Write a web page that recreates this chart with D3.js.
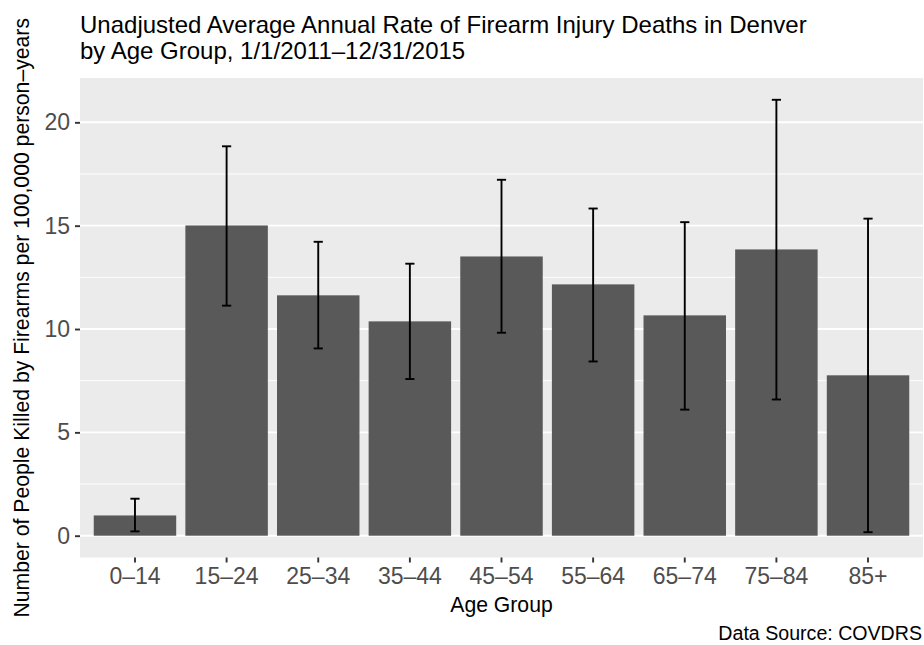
<!DOCTYPE html>
<html><head><meta charset="utf-8">
<script src="https://cdn.jsdelivr.net/npm/d3@7"></script>
<style>body{margin:0;background:#fff} svg{display:block}</style>
</head><body>
<svg id="chart" width="924" height="645"></svg>
<script>
const ageGroups = ["0–14","15–24","25–34","35–44","45–54","55–64","65–74","75–84","85+"];
const rates   = [0.98, 15.01, 11.63, 10.37, 13.51, 12.16, 10.66, 13.85, 7.76];
const lowerCI = [0.21, 11.13, 9.06, 7.58, 9.82, 8.43, 6.10, 6.59, 0.17];
const upperCI = [1.79, 18.84, 14.22, 13.16, 17.22, 15.83, 15.17, 21.09, 15.34];
const yTicks = [0, 5, 10, 15, 20];
const yMinorTicks = [2.5, 7.5, 12.5, 17.5];
const titleLines = ["Unadjusted Average Annual Rate of Firearm Injury Deaths in Denver",
                    "by Age Group, 1/1/2011–12/31/2015"];
const xTitle = "Age Group";
const yTitle = "Number of People Killed by Firearms per 100,000 person–years";
const caption = "Data Source: COVDRS";

const svg = d3.select("#chart");
const font = "'Liberation Sans', Arial, Helvetica, sans-serif";
const panel = {left: 80, right: 923, top: 78, bottom: 557.5};

const data = ageGroups.map((g, i) => ({g, v: rates[i], lo: lowerCI[i], hi: upperCI[i]}));

const x = d3.scaleBand().domain(ageGroups).range([panel.left, panel.right])
  .paddingInner(0.1).paddingOuter(0.15);
const dMin = Math.min(0, d3.min(lowerCI)), dMax = d3.max(upperCI);
const ext = (dMax - dMin) * 0.05;
const y = d3.scaleLinear().domain([dMin - ext, dMax + ext]).range([panel.bottom, panel.top]);

// panel background
svg.append("rect").attr("x", panel.left).attr("y", panel.top)
  .attr("width", panel.right - panel.left).attr("height", panel.bottom - panel.top)
  .attr("fill", "#EBEBEB");

// gridlines
svg.append("g").selectAll("line").data(yMinorTicks).join("line")
  .attr("x1", panel.left).attr("x2", panel.right)
  .attr("y1", d => y(d)).attr("y2", d => y(d))
  .attr("stroke", "#fff").attr("stroke-width", 0.95);
svg.append("g").selectAll("line").data(yTicks).join("line")
  .attr("x1", panel.left).attr("x2", panel.right)
  .attr("y1", d => y(d)).attr("y2", d => y(d))
  .attr("stroke", "#fff").attr("stroke-width", 1.9);

// bars
svg.append("g").selectAll("rect").data(data).join("rect")
  .attr("x", d => x(d.g)).attr("width", x.bandwidth())
  .attr("y", d => y(Math.max(0, d.v))).attr("height", d => Math.abs(y(0) - y(d.v)))
  .attr("fill", "#595959");

// error bars
const capHalf = x.step() * 0.05;
const eb = svg.append("g").attr("stroke", "#000").attr("stroke-width", 1.9);
data.forEach(d => {
  const cx = x(d.g) + x.bandwidth() / 2;
  eb.append("line").attr("x1", cx).attr("x2", cx).attr("y1", y(d.lo)).attr("y2", y(d.hi));
  eb.append("line").attr("x1", cx - capHalf).attr("x2", cx + capHalf).attr("y1", y(d.lo)).attr("y2", y(d.lo));
  eb.append("line").attr("x1", cx - capHalf).attr("x2", cx + capHalf).attr("y1", y(d.hi)).attr("y2", y(d.hi));
});

// axes
const yAxis = svg.append("g").attr("transform", `translate(${panel.left},0)`)
  .call(d3.axisLeft(y).tickValues(yTicks).tickSize(5).tickPadding(5).tickFormat(d3.format("d")));
const xAxis = svg.append("g").attr("transform", `translate(0,${panel.bottom})`)
  .call(d3.axisBottom(x).tickSize(5).tickPadding(5));
[yAxis, xAxis].forEach(a => {
  a.select(".domain").remove();
  a.selectAll(".tick line").attr("stroke", "#333333").attr("stroke-width", 1.9);
  a.selectAll(".tick text").attr("fill", "#4D4D4D").attr("font-family", font).attr("font-size", 23);
});

// titles
const t = svg.append("text").attr("font-family", font).attr("font-size", 24).attr("fill", "#000");
titleLines.forEach((l, i) => t.append("tspan").attr("x", panel.left).attr("y", 33 + i * 26).text(l));

svg.append("text").attr("x", (panel.left + panel.right) / 2).attr("y", 612)
  .attr("text-anchor", "middle").attr("font-family", font).attr("font-size", 21.2).text(xTitle);

svg.append("text").attr("transform", `translate(29,${(panel.top + panel.bottom) / 2}) rotate(-90)`)
  .attr("text-anchor", "middle").attr("font-family", font).attr("font-size", 21.2).text(yTitle);

svg.append("text").attr("x", 922).attr("y", 640).attr("text-anchor", "end")
  .attr("font-family", font).attr("font-size", 19.6).text(caption);
</script>
</body></html>
